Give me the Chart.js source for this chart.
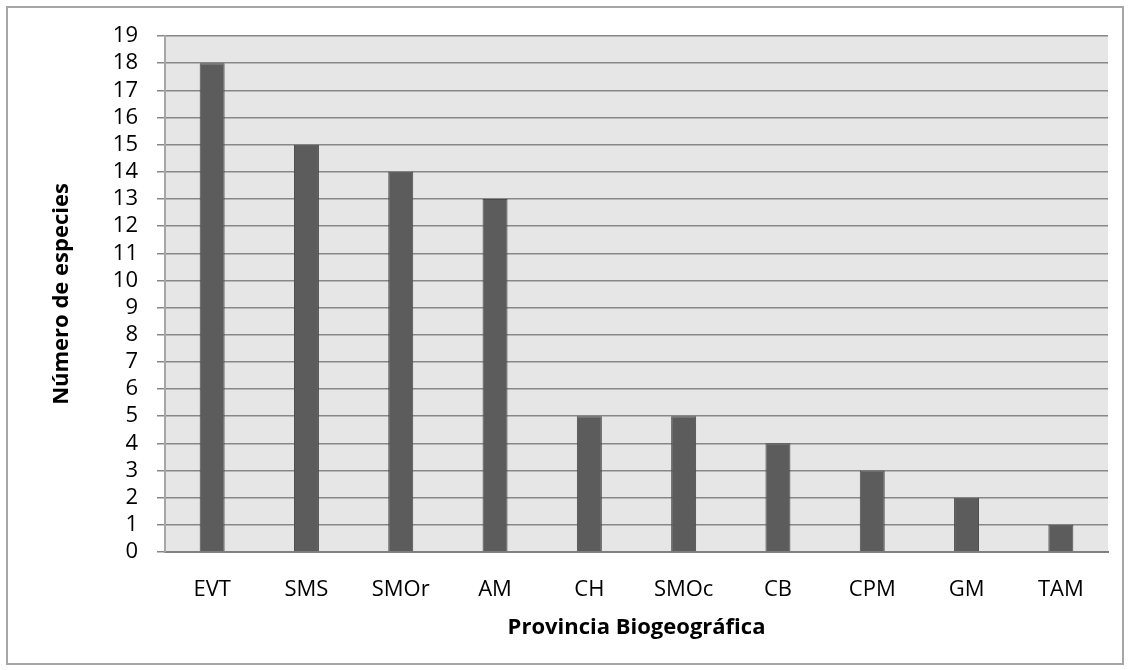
<!DOCTYPE html>
<html>
<head>
<meta charset="utf-8">
<script src="https://cdn.jsdelivr.net/npm/chart.js@4"></script>
<style>
  body { margin: 0; background: #fff; }
  #wrap { position: relative; width: 1129px; height: 670px; }
  #frame { position: absolute; left: 6px; top: 6px; width: 1114px; height: 655px; border: 2px solid #a6a6a6; pointer-events: none; }
</style>
</head>
<body>
<div id="wrap">
  <canvas id="chart" width="1129" height="670"></canvas>
  <div id="frame"></div>
</div>
<script>
// datos del gráfico
var provincias = ['EVT', 'SMS', 'SMOr', 'AM', 'CH', 'SMOc', 'CB', 'CPM', 'GM', 'TAM'];
var especies = [18, 15, 14, 13, 5, 5, 4, 3, 2, 1];
var yMin = 0;
var yMax = 19;
var yStep = 1;

var fontFamily = '"Open Sans", Lato, sans-serif';

// fondo gris del área de trazado
var plotBg = {
    id: 'plotBg',
    beforeDraw: function (chart) {
        var a = chart.chartArea;
        var ctx = chart.ctx;
        ctx.save();
        ctx.fillStyle = '#e6e6e6';
        ctx.fillRect(a.left, a.top, a.right - a.left, a.bottom - a.top);
        ctx.restore();
    }
};

var ctx = document.getElementById('chart');
var chart = new Chart(ctx, {
    type: 'bar',
    data: {
        labels: provincias,
        datasets: [{
            data: especies,
            backgroundColor: '#5c5c5c',
            borderColor: '#4a4a4a',
            borderWidth: 1,
            barPercentage: 0.265,
            categoryPercentage: 1
        }]
    },
    options: {
        responsive: false,
        animation: false,
        layout: {
            padding: { left: 45, top: 36, right: 21, bottom: 25 }
        },
        plugins: {
            legend: { display: false },
            tooltip: { enabled: false }
        },
        scales: {
            x: {
                grid: { display: false },
                border: { display: true, color: '#808080', width: 2 },
                ticks: {
                    color: '#000',
                    padding: 17,
                    autoSkip: false,
                    maxRotation: 0,
                    font: { family: fontFamily, size: 22 }
                },
                title: {
                    display: true,
                    text: 'Provincia Biogeográfica',
                    color: '#000',
                    font: { family: fontFamily, size: 22, weight: 'bold' }
                },
                afterFit: function (scale) { scale.height = 93; }
            },
            y: {
                min: yMin,
                max: yMax,
                grid: {
                    color: '#878787',
                    lineWidth: 1.5,
                    tickLength: 8
                },
                border: { display: true, color: '#a6a6a6', width: 2 },
                ticks: {
                    stepSize: yStep,
                    autoSkip: false,
                    color: '#000',
                    padding: 19,
                    font: { family: fontFamily, size: 22 }
                },
                title: {
                    display: true,
                    text: 'Número de especies',
                    color: '#000',
                    font: { family: fontFamily, size: 22, weight: 'bold' }
                },
                afterFit: function (scale) { scale.width = 120; }
            }
        }
    },
    plugins: [plotBg]
});
</script>
</body>
</html>
